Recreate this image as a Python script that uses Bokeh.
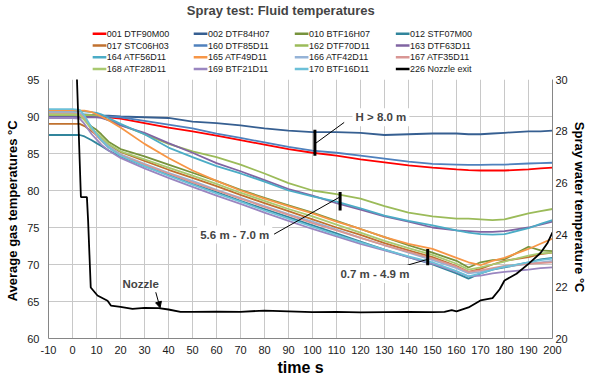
from bokeh.plotting import figure
from bokeh.layouts import column
from bokeh.models import (Range1d, LinearAxis, FixedTicker, Label, Arrow, NormalHead,
                          PrintfTickFormatter, ColumnDataSource)
from bokeh.core.properties import value
from bokeh.embed import file_html
from bokeh.resources import INLINE

# ---------------- data ----------------
time_s = [-10, 0, 3, 5, 8, 10, 12, 15, 20, 30, 40, 50, 60, 70, 80, 90, 100,
          110, 120, 130, 140, 150, 160, 165, 170, 175, 180, 190, 195, 200]

t001 = [90.1, 90.1, 90.1, 90.1, 90.1, 90.1, 90.0, 89.9, 89.7, 89.1, 88.5, 88.0, 87.4, 86.8, 86.2, 85.6, 85.1,
        84.7, 84.2, 83.8, 83.4, 83.1, 82.85, 82.75, 82.7, 82.7, 82.7, 82.85, 83.0, 83.1]
t002 = [90.0, 90.0, 90.0, 90.1, 90.1, 90.1, 90.1, 90.1, 90.0, 89.9, 89.8, 89.3, 89.1, 88.8, 88.4, 88.1, 87.9,
        87.9, 87.8, 87.5, 87.6, 87.7, 87.7, 87.6, 87.6, 87.7, 87.8, 88.0, 88.0, 88.1]
t010 = [90.2, 90.2, 90.1, 89.6, 88.6, 88.2, 87.6, 86.6, 85.6, 84.6, 83.5, 82.4, 81.3, 80.1, 79.0, 78.0, 77.0,
        75.9, 74.8, 73.7, 72.6, 71.6, 70.5, 69.6, 70.3, 70.6, 70.7, 72.4, 71.9, 71.8]
t012 = [87.5, 87.5, 87.5, 87.3, 86.8, 86.4, 86.0, 85.4, 84.6, 83.3, 82.1, 80.9, 79.8, 78.6, 77.5, 76.4, 75.3,
        74.2, 73.1, 72.0, 71.0, 70.0, 68.8, 68.1, 68.8, 69.3, 69.6, 70.3, 70.7, 70.9]
t017 = [89.0, 89.0, 89.0, 88.7, 88.0, 87.5, 87.0, 86.2, 85.2, 84.0, 82.8, 81.7, 80.6, 79.4, 78.3, 77.2, 76.1,
        75.0, 74.0, 72.9, 71.9, 71.0, 69.8, 69.0, 69.4, 70.0, 70.5, 71.0, 71.4, 71.6]
t160 = [90.3, 90.3, 90.3, 90.3, 90.2, 90.2, 90.1, 90.0, 89.9, 89.4, 88.9, 88.4, 87.7, 87.1, 86.5, 85.9, 85.4,
        85.1, 84.7, 84.3, 83.9, 83.6, 83.5, 83.45, 83.45, 83.5, 83.5, 83.65, 83.7, 83.75]
t162 = [90.2, 90.2, 90.2, 90.2, 90.2, 90.1, 89.9, 89.5, 88.9, 87.6, 86.3, 85.3, 84.5, 83.5, 82.3, 81.0, 80.0,
        79.5, 78.9, 77.9, 77.0, 76.5, 76.2, 76.2, 76.1, 76.0, 76.1, 76.9, 77.2, 77.5]
t163 = [89.9, 89.9, 89.9, 89.9, 89.9, 89.9, 89.8, 89.5, 88.8, 87.8, 86.4, 85.1, 83.7, 82.6, 81.4, 80.2, 79.3,
        78.3, 77.4, 76.5, 75.8, 75.0, 74.6, 74.5, 74.4, 74.4, 74.5, 75.0, 75.4, 75.8]
t164 = [90.7, 90.7, 90.7, 90.7, 90.6, 90.5, 90.3, 89.8, 89.0, 87.6, 85.8, 84.5, 83.3, 82.3, 81.2, 80.0, 79.2,
        78.5, 77.6, 76.6, 75.9, 75.3, 74.6, 74.3, 74.1, 74.05, 74.1, 74.9, 75.5, 76.0]
t165 = [90.8, 90.8, 90.8, 90.8, 90.6, 90.3, 90.0, 89.5, 88.5, 86.3, 84.4, 82.7, 81.3, 80.0, 78.9, 77.9, 76.9,
        75.8, 74.8, 73.7, 72.8, 72.1, 70.9, 70.3, 69.9, 70.5, 70.9, 72.1, 72.8, 73.5]
t166 = [90.6, 90.6, 90.5, 89.8, 88.4, 87.6, 86.9, 86.0, 84.9, 83.6, 82.4, 81.3, 80.1, 79.0, 77.9, 76.8, 75.8,
        74.7, 73.6, 72.6, 71.6, 70.6, 69.5, 68.8, 69.0, 69.4, 69.7, 70.1, 70.3, 70.5]
t167 = [90.4, 90.4, 90.3, 89.7, 88.2, 87.4, 86.7, 85.8, 84.8, 83.5, 82.3, 81.1, 80.0, 78.9, 77.8, 76.7, 75.6,
        74.6, 73.6, 72.6, 71.7, 70.8, 69.7, 69.0, 69.2, 69.5, 69.8, 70.1, 70.2, 70.3]
t168 = [90.3, 90.3, 90.2, 89.5, 88.3, 87.8, 87.2, 86.3, 85.3, 84.2, 83.1, 82.0, 80.9, 79.7, 78.6, 77.5, 76.5,
        75.4, 74.3, 73.2, 72.2, 71.3, 70.1, 69.3, 69.6, 70.0, 70.4, 71.2, 71.5, 71.6]
t169 = [89.8, 89.8, 89.7, 89.0, 87.6, 86.9, 86.2, 85.4, 84.4, 83.0, 81.7, 80.5, 79.3, 78.2, 77.0, 75.9, 74.8,
        73.8, 72.8, 71.9, 71.0, 70.1, 69.0, 68.4, 68.5, 68.8, 69.0, 69.3, 69.5, 69.6]
t170 = [91.0, 91.0, 90.9, 90.1, 88.5, 87.6, 86.8, 85.8, 84.7, 83.3, 82.0, 80.8, 79.6, 78.5, 77.3, 76.2, 75.1,
        74.0, 73.0, 72.0, 71.1, 70.3, 69.1, 68.4, 68.8, 69.3, 69.7, 70.3, 70.6, 70.8]

nozzle_time = [1.5, 3.5, 6.0, 6.5, 7.6, 10.4, 14.6, 16, 20, 25, 30, 36, 40, 45, 50, 60, 70, 80, 90,
               100, 110, 120, 130, 140, 150, 155, 158, 160, 165, 170, 175, 178, 180, 185, 190, 195, 198, 200]
t226 = [31.0, 25.46, 25.46, 24.56, 21.97, 21.66, 21.46, 21.27, 21.22, 21.14, 21.18, 21.17, 21.12, 21.03,
        21.03, 21.04, 21.03, 21.08, 21.05, 21.02, 21.03, 21.01, 21.02, 21.03, 21.02, 21.03, 21.1, 21.05,
        21.2, 21.47, 21.56, 21.9, 22.24, 22.5, 22.88, 23.3, 23.7, 24.1]

gas_names = ["001 DTF90M00", "002 DTF84H07", "010 BTF16H07", "012 STF07M00", "017 STC06H03",
             "160 DTF85D11", "162 DTF70D11", "163 DTF63D11", "164 ATF56D11", "165 ATF49D11",
             "166 ATF42D11", "167 ATF35D11", "168 ATF28D11", "169 BTF21D11", "170 BTF16D11"]
gas_values = [t001, t002, t010, t012, t017, t160, t162, t163, t164, t165, t166, t167, t168, t169, t170]
nozzle_name = "226 Nozzle exit"

# legend order as shown (4 rows x 4 columns, read row by row)
legend_rows = [["001 DTF90M00", "002 DTF84H07", "010 BTF16H07", "012 STF07M00"],
               ["017 STC06H03", "160 DTF85D11", "162 DTF70D11", "163 DTF63D11"],
               ["164 ATF56D11", "165 ATF49D11", "166 ATF42D11", "167 ATF35D11"],
               ["168 ATF28D11", "169 BTF21D11", "170 BTF16D11", "226 Nozzle exit"]]

x_ticks = list(range(-10, 201, 10))
left_ticks = [60, 65, 70, 75, 80, 85, 90, 95]
right_ticks = [20, 22, 24, 26, 28, 30]

# ---------------- styles ----------------
FONT = "Liberation Sans"
colors = ["#FF0000", "#365F91", "#77933C", "#31859C", "#C0712F",
          "#4F81BD", "#9BBB59", "#8064A2", "#4BACC6", "#F79646",
          "#95B3D7", "#D99694", "#A9C970", "#9A86C0", "#6CC0D8"]
color_of = dict(zip(gas_names, colors))
color_of[nozzle_name] = "black"

TOP_H = 73

# ---------------- header: title + legend (pixel-like coordinates) ----------------
top = figure(width=590, height=TOP_H, x_range=Range1d(0, 590), y_range=Range1d(TOP_H, 0),
             output_backend="svg", toolbar_location=None, title=None,
             x_axis_type=None, y_axis_type=None,
             min_border_left=0, min_border_right=0, min_border_top=0, min_border_bottom=0)
top.grid.visible = False
top.outline_line_color = None

top.add_layout(Label(x=274, y=10, text="Spray test:  Fluid temperatures", text_font=FONT,
                     text_font_style="bold", text_font_size="13px",
                     text_align="center", text_baseline="middle"))

LEG_X0, LEG_DX, LEG_Y0, LEG_DY, SW = 51.7, 118.3, 33.3, 11.7, 16
sx0, sx1, sy, lab, col = [], [], [], [], []
for r, row in enumerate(legend_rows):
    for c, n in enumerate(row):
        x = LEG_X0 + c * LEG_DX
        y = LEG_Y0 + r * LEG_DY
        sx0.append(x); sx1.append(x + SW); sy.append(y); lab.append(n); col.append(color_of[n])
leg_src = ColumnDataSource(dict(x0=sx0, x1=sx1, y=sy, label=lab, color=col))
top.segment(x0="x0", y0="y", x1="x1", y1="y", line_color="color", line_width=2.5, source=leg_src)
top.text(x="x1", y="y", text="label", source=leg_src, x_offset=0.5,
         text_font=value(FONT), text_font_size="9px", text_color="#1a1a1a",
         text_align="left", text_baseline="middle")

# ---------------- main chart ----------------
p = figure(width=590, height=383 - TOP_H, x_range=Range1d(-10, 200), y_range=Range1d(60, 95),
           output_backend="svg", toolbar_location=None, title=None,
           min_border_left=48, min_border_right=38, min_border_top=79 - TOP_H, min_border_bottom=45)
p.extra_y_ranges = {"spray": Range1d(20, 30)}
p.outline_line_color = None
p.background_fill_color = "white"

for name, vals in zip(gas_names, gas_values):
    p.line(time_s, vals, line_color=color_of[name], line_width=1.8)
p.line(nozzle_time, t226, line_color="black", line_width=1.8, y_range_name="spray")

p.xaxis.ticker = FixedTicker(ticks=x_ticks)
p.yaxis.ticker = FixedTicker(ticks=left_ticks)
p.xgrid.ticker = FixedTicker(ticks=x_ticks)
p.ygrid.ticker = FixedTicker(ticks=left_ticks)
p.xgrid.grid_line_color = "#C8C8C8"
p.ygrid.grid_line_color = "#C8C8C8"

right_axis = LinearAxis(y_range_name="spray", ticker=FixedTicker(ticks=right_ticks))
p.add_layout(right_axis, "right")

p.xaxis.axis_label = "time s"
p.yaxis[0].axis_label = "Average gas temperatures  \u00b0C"
right_axis.axis_label = "Spray water temperature  \u00b0C"

for ax in [p.xaxis[0], p.yaxis[0], right_axis]:
    ax.formatter = PrintfTickFormatter(format="%d")
    ax.major_tick_out = 0
    ax.major_tick_in = 0
    ax.minor_tick_out = 0
    ax.minor_tick_in = 0
    ax.axis_line_color = "#868686"
    ax.major_label_text_font = FONT
    ax.major_label_text_font_size = "11px"
    ax.major_label_text_color = "#1a1a1a"
    ax.axis_label_text_font = FONT
    ax.axis_label_text_font_style = "bold"
    ax.axis_label_text_font_size = "13px"
    ax.axis_label_text_color = "black"

p.xaxis.major_label_standoff = 7
p.xaxis.axis_label_standoff = 2
p.xaxis.axis_label_text_font_size = "16px"
p.yaxis[0].major_label_standoff = 9
p.yaxis[0].axis_label_standoff = 4
right_axis.major_label_standoff = 3
right_axis.axis_label_standoff = 1

def note(x, y, text, box=True):
    lab = Label(x=x, y=y, text=text, text_font=FONT, text_font_style="bold",
                text_font_size="11.5px", text_align="center", text_baseline="middle")
    if box:
        lab.background_fill_color = "white"
        lab.padding = 3
    p.add_layout(lab)

note(128.5, 89.9, "H > 8.0 m")
note(67.6, 74.05, "5.6 m - 7.0 m")
note(126.0, 68.7, "0.7 m - 4.9 m")
note(28.4, 67.4, "Nozzle", box=False)

p.segment(x0=[101, 111.5, 148], y0=[84.7, 77.3, 69.9], x1=[101, 111.5, 148], y1=[88.2, 79.8, 72.1],
          line_color="black", line_width=3)
p.segment(x0=[101.4, 84.0, 139.5], y0=[86.4, 74.1, 69.9], x1=[113.2, 111.0, 148.0], y1=[89.2, 79.05, 70.7],
          line_color="black", line_width=1)
p.add_layout(Arrow(end=NormalHead(size=6, fill_color="black", line_color="black"),
                   x_start=34.7, y_start=66.25, x_end=36.5, y_end=64.15,
                   line_color="black", line_width=1))

layout = column(top, p, spacing=0)
open("out.html", "w").write(file_html(layout, INLINE))
